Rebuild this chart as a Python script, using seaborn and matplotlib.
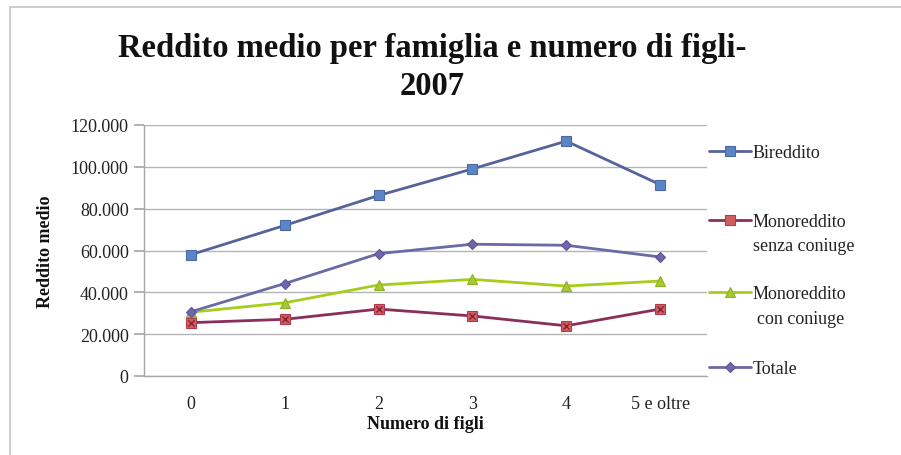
import matplotlib
matplotlib.use("Agg")
import matplotlib.pyplot as plt
import seaborn as sns
import pandas as pd
from matplotlib.ticker import FuncFormatter
from matplotlib.lines import Line2D
from matplotlib.patches import Rectangle

categories = ["0", "1", "2", "3", "4", "5 e oltre"]
bireddito = [58000, 72000, 86300, 99000, 112300, 91500]
mono_senza = [25500, 27100, 32000, 28700, 24000, 32000]
mono_con = [30500, 35000, 43500, 46200, 43000, 45400]
totale = [30700, 44200, 58500, 63000, 62500, 56900]
legend_first = ["Bireddito", "Monoreddito", "Monoreddito", "Totale"]
legend_second = ["", "senza coniuge", "con coniuge", ""]

sns.set_theme(style="white")
plt.rcParams['font.family'] = ['Liberation Serif', 'DejaVu Serif']

W, H = 901, 456
fig = plt.figure(figsize=(W/100, H/100), dpi=100)
ax = fig.add_axes([144/W, 1-377/H, (707-144)/W, (377-126)/H])

# outer chart border (top and left visible)
fig.patches.append(Rectangle((10/W, -0.1), 1.2, 1 - 8/H + 0.1, transform=fig.transFigure,
                             fill=False, edgecolor="#c4c4c4", linewidth=1.2, zorder=0))

x = list(range(len(categories)))
specs = [
    (bireddito, "#56639a", "s", "#5b85c6", "#4a6aa5", 7),
    (mono_senza, "#8a2f58", "s", "#d06060", "#b03a48", 7),
    (mono_con, "#a8cc1c", "^", "#a6c93a", "#8fb020", 7.5),
    (totale, "#6a6aa6", "D", "#7067aa", "#5a5596", 5.5),
]
handles = []
for vals, lc, mk, mfc, mec, ms in specs:
    df = pd.DataFrame({"x": x, "y": vals})
    sns.lineplot(data=df, x="x", y="y", ax=ax, color=lc, linewidth=2.0,
                 marker=mk, markersize=ms, markerfacecolor=mfc, markeredgecolor=mec,
                 markeredgewidth=0.8, zorder=3)
    handles.append(Line2D([], [], color=lc, linewidth=2.0, marker=mk, markersize=ms,
                          markerfacecolor=mfc, markeredgecolor=mec, markeredgewidth=0.8))

# x overlay on red square markers
df_red = pd.DataFrame({"x": x, "y": mono_senza})
sns.scatterplot(data=df_red, x="x", y="y", ax=ax, marker="x", s=20, color="#8a1f3a",
                linewidth=1.0, zorder=4)

ax.set_xlim(-0.5, len(categories) - 0.5)
ax.set_ylim(0, 120000)
ax.set_yticks(range(0, 120001, 20000))
ax.yaxis.set_major_formatter(FuncFormatter(lambda v, p: f"{int(v):,}".replace(",", ".")))
ax.set_xticks(x)
ax.set_xticklabels(categories)

ax.grid(axis="y", color="#b4b4b4", linewidth=1.0)
ax.grid(axis="x", visible=False)
ax.set_axisbelow(True)
for s in ["top", "right"]:
    ax.spines[s].set_visible(False)
for s in ["left", "bottom"]:
    ax.spines[s].set_color("#a8a8a8")
    ax.spines[s].set_linewidth(1.0)
ax.tick_params(axis="y", which="major", left=True, length=7, color="#a8a8a8",
               labelsize=13, pad=4, labelcolor="#222222")
ax.tick_params(axis="x", which="major", bottom=False, labelsize=13, pad=7.5, labelcolor="#222222")

ax.set_xlabel("Numero di figli", fontsize=13, fontweight="bold", labelpad=2, color="#111111")
ax.set_ylabel("Reddito medio", fontsize=13, fontweight="bold", labelpad=12, color="#111111")

fig.text(432/W, 1-57/H, "Reddito medio per famiglia e numero di figli-",
         ha="center", va="baseline", fontsize=23.5, fontweight="bold", color="#111111")
fig.text(432/W, 1-95/H, "2007",
         ha="center", va="baseline", fontsize=23.5, fontweight="bold", color="#111111")

handle_y = [152, 221, 293, 368]
second_y = [None, 247, 319, None]
second_x = [None, 753, 757, None]
for h, lab, hy in zip(handles, legend_first, handle_y):
    lg = fig.legend([h], [lab], loc="center left", bbox_to_anchor=(709/W, 1-(hy+2)/H),
                    frameon=False, fontsize=13, handlelength=2.3, handletextpad=0.12,
                    borderaxespad=0, borderpad=0)
    for t in lg.get_texts():
        t.set_color("#222222")
for lab, sy, sx in zip(legend_second, second_y, second_x):
    if lab:
        fig.text(sx/W, 1-sy/H, lab, ha="left", va="center", fontsize=13, color="#222222")

fig.savefig("out.png", dpi=100)
